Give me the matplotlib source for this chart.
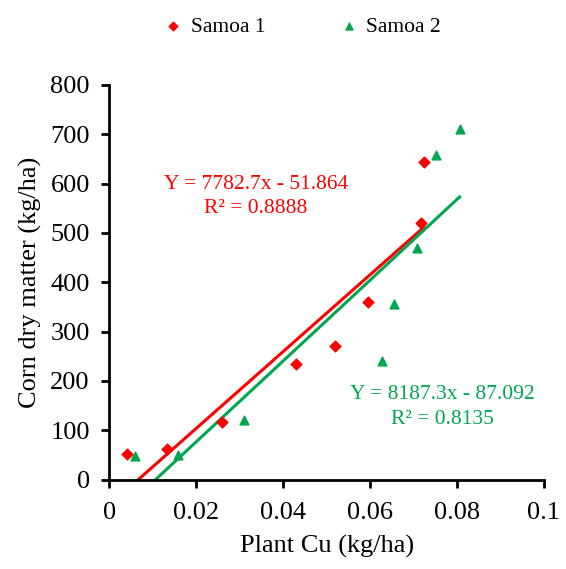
import numpy as np
import matplotlib.pyplot as plt

plt.rcParams['font.family'] = ['Liberation Serif', 'DejaVu Serif']

# Samoa 1
cu_s1 = [0.0042, 0.0132, 0.0259, 0.0430, 0.0520, 0.0596, 0.0718, 0.0723]
dm_s1 = [53, 63, 116, 235, 270, 359, 520, 644]
# Samoa 2
cu_s2 = [0.0060, 0.0159, 0.0309, 0.0628, 0.0656, 0.0707, 0.0751, 0.0806]
dm_s2 = [47, 49, 120, 240, 355, 469, 658, 711]

# trendline coefficients (slope, intercept)
fit_s1 = (7782.7, -51.864)
fit_s2 = (8187.3, -87.092)

red = '#FF0000'
green = '#00A650'

fig = plt.figure(figsize=(5.66, 5.69), dpi=100)
ax = fig.add_axes([0.193, 0.157, 0.768, 0.694])

ax.scatter(cu_s1, dm_s1, marker='D', s=30, color=red, label='Samoa 1', zorder=3)
ax.scatter(cu_s2, dm_s2, marker='^', s=40, color=green, label='Samoa 2', zorder=3)

xs = np.linspace(min(cu_s1), max(cu_s1), 50)
ax.plot(xs, fit_s1[0] * xs + fit_s1[1], color=red, lw=2.2)
xs = np.linspace(min(cu_s2), max(cu_s2), 50)
ax.plot(xs, fit_s2[0] * xs + fit_s2[1], color=green, lw=2.2)

ax.text(0.0338, 597, 'Y = 7782.7x - 51.864', color=red, fontsize=15.5, ha='center', va='center')
ax.text(0.0338, 550, 'R² = 0.8888', color=red, fontsize=15.5, ha='center', va='center')
ax.text(0.0766, 172, 'Y = 8187.3x - 87.092', color=green, fontsize=15.5, ha='center', va='center')
ax.text(0.0766, 122, 'R² = 0.8135', color=green, fontsize=15.5, ha='center', va='center')

ax.set_xlim(0, 0.1)
ax.set_ylim(0, 800)
ax.set_xticks([0, 0.02, 0.04, 0.06, 0.08, 0.1])
ax.set_xticklabels(['0', '0.02', '0.04', '0.06', '0.08', '0.1'])
ax.set_yticks(range(0, 801, 100))
ax.tick_params(labelsize=19, width=2, length=6, direction='out')
ax.tick_params(axis='x', pad=10)
ax.tick_params(axis='y', pad=8)
ax.spines['top'].set_visible(False)
ax.spines['right'].set_visible(False)
ax.spines['left'].set_linewidth(2)
ax.spines['bottom'].set_linewidth(2)

ax.set_xlabel('Plant Cu (kg/ha)', fontsize=19, labelpad=8)
ax.set_ylabel('Corn dry matter (kg/ha)', fontsize=19, labelpad=6)

fig.legend(loc='upper center', bbox_to_anchor=(0.535, 1.005), ncol=2, frameon=False,
           fontsize=15.5, handlelength=0.8, handletextpad=0.4, columnspacing=3.5,
           markerscale=0.8)

fig.savefig('out.png', dpi=100)
